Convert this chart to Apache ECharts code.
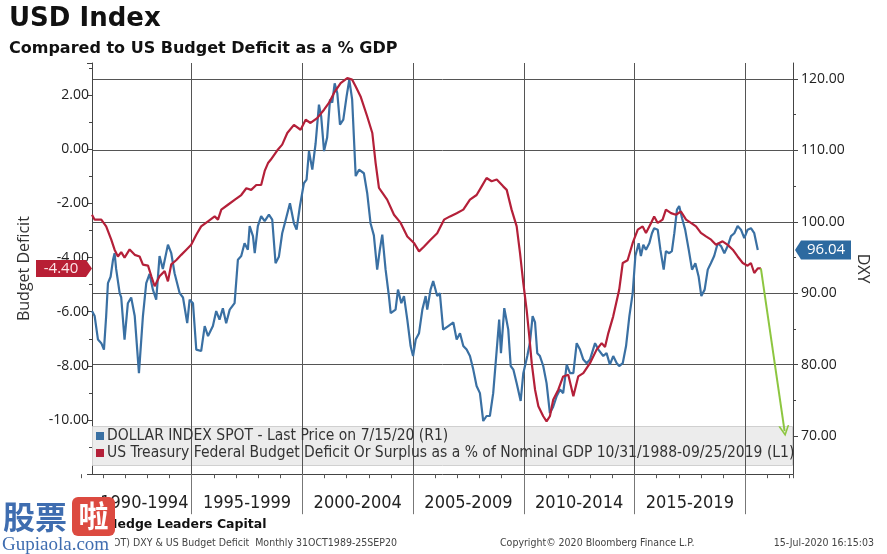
<!DOCTYPE html>
<html><head><meta charset="utf-8">
<script src="https://cdn.jsdelivr.net/npm/echarts@6/dist/echarts.min.js"></script>
<style>html,body{margin:0;padding:0;background:#fff}#c{width:887px;height:554px}</style>
</head><body><div id="c"></div>
<script>
// ---------- data ----------
const periodLabels = ['1990-1994','1995-1999','2000-2004','2005-2009','2010-2014','2015-2019'];

const dxyName = 'DOLLAR INDEX SPOT - Last Price on 7/15/20 (R1)';
const deficitName = 'US Treasury Federal Budget Deficit Or Surplus as a % of Nominal GDP 10/31/1988-09/25/2019 (L1)';

const dxyYears = [1990.50,1990.62,1990.77,1990.92,1991.04,1991.14,1991.22,1991.34,1991.45,1991.52,1991.59,1991.75,1991.82,1991.97,1992.12,1992.27,1992.43,1992.62,1992.80,1992.95,1993.10,1993.25,1993.40,1993.55,1993.70,1993.93,1994.08,1994.23,1994.46,1994.61,1994.80,1994.91,1995.06,1995.21,1995.43,1995.59,1995.74,1995.96,1996.11,1996.26,1996.41,1996.56,1996.72,1996.94,1997.09,1997.24,1997.39,1997.54,1997.62,1997.77,1997.85,1997.99,1998.14,1998.30,1998.49,1998.64,1998.79,1998.94,1999.09,1999.25,1999.44,1999.62,1999.74,1999.89,2000.07,2000.19,2000.30,2000.45,2000.60,2000.75,2000.85,2000.98,2001.12,2001.25,2001.35,2001.46,2001.58,2001.70,2001.85,2002.00,2002.12,2002.25,2002.41,2002.56,2002.78,2002.93,2003.08,2003.23,2003.38,2003.50,2003.61,2003.76,2003.91,2003.99,2004.21,2004.32,2004.47,2004.59,2004.74,2004.89,2005.00,2005.12,2005.27,2005.42,2005.57,2005.64,2005.79,2005.91,2006.09,2006.21,2006.36,2006.59,2006.82,2006.97,2007.12,2007.27,2007.42,2007.57,2007.72,2007.87,2008.02,2008.17,2008.32,2008.47,2008.62,2008.78,2008.89,2008.97,2009.12,2009.30,2009.41,2009.53,2009.68,2009.86,2009.98,2010.16,2010.28,2010.40,2010.51,2010.61,2010.73,2010.88,2011.03,2011.18,2011.33,2011.49,2011.64,2011.78,2011.94,2012.09,2012.24,2012.39,2012.54,2012.69,2012.84,2012.99,2013.22,2013.37,2013.59,2013.74,2013.89,2014.04,2014.20,2014.31,2014.47,2014.62,2014.77,2014.92,2015.04,2015.19,2015.29,2015.40,2015.52,2015.67,2015.79,2015.89,2016.05,2016.17,2016.32,2016.42,2016.57,2016.69,2016.80,2016.92,2017.02,2017.15,2017.29,2017.45,2017.60,2017.75,2017.90,2018.02,2018.17,2018.31,2018.45,2018.60,2018.76,2018.91,2019.06,2019.21,2019.36,2019.51,2019.66,2019.81,2019.96,2020.11,2020.26,2020.41,2020.57];
const dxyValues = [87.5,86.8,83.5,83.0,82.1,86.8,91.4,92.3,94.7,95.6,93.4,90.0,89.4,83.5,88.6,89.4,86.8,78.8,86.8,91.4,92.7,90.5,89.1,95.2,93.4,96.8,95.6,92.8,90.0,89.4,85.8,89.1,88.6,82.1,81.9,85.4,84.0,85.4,87.5,86.3,87.9,85.8,87.7,88.6,94.7,95.2,97.0,96.1,99.4,98.0,95.6,99.4,100.8,100.1,101.0,100.3,94.2,95.1,98.4,100.3,102.6,99.8,98.9,102.2,105.4,105.9,109.9,107.3,111.0,116.4,114.8,109.9,111.8,117.1,116.7,119.4,118.0,113.6,114.3,117.6,119.9,117.1,106.4,107.3,106.8,104.0,99.8,98.1,93.3,96.1,98.2,93.3,89.6,87.2,87.7,90.5,88.6,89.6,86.3,82.6,81.2,83.5,84.4,87.7,89.6,87.7,90.5,91.7,89.6,90.0,84.9,85.4,85.9,83.5,84.4,82.6,82.1,81.2,79.3,77.0,76.0,72.1,72.8,72.8,76.0,82.1,86.3,81.6,87.9,84.9,79.8,79.3,77.4,74.9,78.8,81.2,83.1,86.8,85.9,81.6,81.2,79.8,77.4,73.2,74.1,75.6,76.5,76.0,80.0,78.8,78.8,83.0,82.1,80.7,80.2,80.7,83.0,82.1,81.2,81.6,80.0,81.2,80.2,79.8,80.2,82.6,86.8,90.0,95.2,97.0,95.2,96.8,96.1,97.0,98.4,99.1,98.9,96.1,93.3,95.9,95.6,95.9,98.4,101.7,102.2,100.5,98.9,96.1,93.3,94.2,92.3,89.6,90.5,93.3,94.2,95.2,97.0,96.6,95.6,96.6,98.0,98.4,99.4,98.9,97.7,98.9,99.1,98.4,96.04];

const deficitYears = [1990.50,1990.62,1990.92,1991.14,1991.37,1991.52,1991.67,1991.82,1991.97,1992.20,1992.43,1992.65,1992.80,1993.03,1993.18,1993.33,1993.55,1993.78,1993.93,1994.08,1994.30,1994.53,1994.76,1994.98,1995.21,1995.43,1995.74,1996.04,1996.19,1996.34,1996.64,1996.94,1997.24,1997.47,1997.69,1997.92,1998.14,1998.30,1998.45,1998.57,1998.87,1999.09,1999.32,1999.62,1999.92,2000.15,2000.37,2000.67,2000.98,2001.20,2001.43,2001.73,2002.03,2002.25,2002.41,2002.63,2002.93,2003.16,2003.31,2003.46,2003.61,2003.83,2004.14,2004.44,2004.74,2005.04,2005.27,2005.49,2005.79,2006.09,2006.40,2006.67,2006.97,2007.27,2007.57,2007.87,2008.10,2008.32,2008.55,2008.78,2009.07,2009.23,2009.45,2009.68,2009.83,2009.98,2010.13,2010.25,2010.36,2010.51,2010.66,2010.88,2011.03,2011.18,2011.33,2011.56,2011.78,2012.01,2012.24,2012.46,2012.69,2012.99,2013.29,2013.52,2013.67,2013.82,2014.04,2014.17,2014.31,2014.47,2014.69,2014.92,2015.15,2015.37,2015.52,2015.75,2015.89,2016.05,2016.27,2016.42,2016.65,2016.87,2017.10,2017.33,2017.55,2017.78,2018.00,2018.23,2018.46,2018.68,2018.98,2019.21,2019.44,2019.66,2019.89,2020.11,2020.26,2020.41,2020.57,2020.71];
const deficitValues = [-2.42,-2.60,-2.60,-2.85,-3.34,-3.71,-3.96,-3.80,-4.00,-3.70,-3.90,-3.96,-4.26,-4.30,-4.69,-5.06,-4.69,-4.50,-4.88,-4.25,-4.10,-3.90,-3.71,-3.53,-3.16,-2.85,-2.66,-2.48,-2.60,-2.23,-2.05,-1.87,-1.69,-1.44,-1.50,-1.32,-1.32,-0.80,-0.51,-0.39,-0.04,0.17,0.60,0.90,0.72,1.09,0.97,1.15,1.46,1.71,2.08,2.44,2.63,2.57,2.32,1.95,1.21,0.60,-0.51,-1.43,-1.60,-1.86,-2.42,-2.72,-3.22,-3.46,-3.77,-3.60,-3.34,-3.10,-2.60,-2.48,-2.36,-2.23,-1.86,-1.69,-1.37,-1.06,-1.18,-1.12,-1.37,-1.50,-2.23,-2.85,-3.83,-4.94,-5.93,-6.91,-7.90,-8.88,-9.49,-9.86,-10.05,-9.86,-9.25,-8.88,-8.39,-8.33,-9.12,-8.39,-8.27,-7.90,-7.40,-7.16,-7.30,-6.79,-6.17,-5.70,-5.19,-4.20,-4.10,-3.46,-2.97,-2.85,-3.09,-2.72,-2.48,-2.72,-2.60,-2.23,-2.36,-2.42,-2.30,-2.60,-2.72,-2.85,-3.09,-3.22,-3.34,-3.53,-3.40,-3.53,-3.71,-3.96,-4.20,-4.30,-4.20,-4.57,-4.40,-4.40];

const lastDeficit = -4.40;
const lastDxy = 96.04;
const arrowFrom = [2020.71, -4.40];
const arrowTo = [2021.78, -10.41];

const leftTickInterval = 2;
const rightTickInterval = 10;

// ---------- chart ----------
const narrow = "'Liberation Sans Narrow','DejaVu Sans Condensed',sans-serif";
const axisFont = "'Open Sans','DejaVu Sans',sans-serif";
const BLUE = '#3a70a3', RED = '#b42039', GRID = '#555';

const chart = echarts.init(document.getElementById('c'), null, {renderer: 'canvas'});

const option = {
  animation: false,
  backgroundColor: '#fff',
  title: {
    text: 'USD Index',
    subtext: 'Compared to US Budget Deficit as a % GDP',
    left: 9, top: 6, itemGap: 9, padding: 0,
    textStyle: {fontFamily: 'DejaVu Sans', fontWeight: 'bold', fontSize: 26, color: '#111'},
    subtextStyle: {fontFamily: 'DejaVu Sans', fontWeight: 'bold', fontSize: 16, color: '#111'}
  },
  legend: {
    left: 96, top: 428, orient: 'vertical', itemGap: 1, itemWidth: 8, itemHeight: 8, icon: 'rect',
    padding: 0, selectedMode: false, z: 5,
    textStyle: {fontFamily: narrow, fontSize: 15.5, color: '#333', padding: [0, 0, 0, -2]},
    data: [dxyName, deficitName]
  },
  grid: [
    {left: 92, right: 94, top: 63, bottom: 79.8},
    {left: 92, right: 94, top: 79, bottom: 118},
    {left: 81, right: 141.8, top: 63, bottom: 79.8},
    {left: 81, right: 94, top: 63, bottom: 79.8}
  ],
  xAxis: [
    {gridIndex: 0, type: 'value', min: 1990.5, max: 2022.16,
      axisLine: {show: true, onZero: false, lineStyle: {color: '#444'}}, axisTick: {show: false}, axisLabel: {show: false}, splitLine: {show: false}},
    {gridIndex: 1, type: 'value', min: 1990.5, max: 2022.16, show: false},
    {gridIndex: 2, type: 'category', data: periodLabels, boundaryGap: true, z: 2,
      axisLine: {show: false, onZero: false},
      axisTick: {show: true, length: 40, interval: (i) => i > 0, lineStyle: {color: '#777'}},
      splitLine: {show: true, interval: (i) => i > 0, lineStyle: {color: GRID, width: 1}},
      axisLabel: {interval: 0, margin: 20, fontFamily: narrow, fontSize: 18, color: '#222',
        formatter: (v, i) => i === 0 ? '{a|' + v + '}' : v,
        rich: {a: {fontFamily: narrow, fontSize: 18, color: '#222', padding: [0, 0, 0, 16]}}}},
    {gridIndex: 3, type: 'value', min: 1990, max: 2022.16, interval: 1,
      axisLine: {show: false, onZero: false}, axisTick: {show: true, length: 4, lineStyle: {color: '#555'}},
      axisLabel: {show: false}, splitLine: {show: false}}
  ],
  yAxis: [
    {gridIndex: 0, type: 'value', position: 'left', min: -12, max: 3.185, interval: leftTickInterval,
      name: 'Budget Deficit', nameLocation: 'middle', nameRotate: 90, nameGap: 60,
      nameTextStyle: {fontFamily: axisFont, fontSize: 16, color: '#333'},
      axisLine: {show: true, onZero: false, lineStyle: {color: '#444'}},
      axisTick: {show: true, length: 5, lineStyle: {color: '#444'}},
      minorTick: {show: true, splitNumber: 2, length: 3, lineStyle: {color: '#444'}},
      axisLabel: {margin: 3, fontFamily: axisFont, fontSize: 14, color: '#222',
        formatter: (v) => (v <= -12 || Math.abs(v / 2 - Math.round(v / 2)) > 0.01) ? '' : v.toFixed(2)},
      splitLine: {show: false}},
    {gridIndex: 0, type: 'value', position: 'right', min: 0, max: 1,
      name: 'DXY', nameLocation: 'middle', nameRotate: -90, nameGap: 62,
      nameTextStyle: {fontFamily: axisFont, fontSize: 16, color: '#333'},
      axisLine: {show: true, onZero: false, lineStyle: {color: '#444'}}, axisTick: {show: false}, axisLabel: {show: false}, splitLine: {show: false}},
    {gridIndex: 1, type: 'value', position: 'right', min: 70, max: 120, interval: rightTickInterval,
      axisLine: {show: false, onZero: false},
      axisTick: {show: true, length: 5, lineStyle: {color: '#444'}},
      minorTick: {show: true, splitNumber: 2, length: 3, lineStyle: {color: '#444'}},
      axisLabel: {margin: 8, fontFamily: axisFont, fontSize: 14, color: '#222', formatter: (v) => v.toFixed(2)},
      splitLine: {show: true, lineStyle: {color: GRID, width: 1}}},
    {gridIndex: 2, type: 'value', show: false},
    {gridIndex: 3, type: 'value', show: false}
  ],
  series: [
    {name: dxyName, type: 'line', xAxisIndex: 1, yAxisIndex: 2, z: 3, clip: false,
      data: dxyYears.map((y, i) => [y, dxyValues[i]]),
      showSymbol: false, symbol: 'none', lineStyle: {color: BLUE, width: 2.2}, itemStyle: {color: BLUE}},
    {name: deficitName, type: 'line', xAxisIndex: 0, yAxisIndex: 0, z: 4, clip: false,
      data: deficitYears.map((y, i) => [y, deficitValues[i]]),
      showSymbol: false, symbol: 'none', lineStyle: {color: RED, width: 2.2}, itemStyle: {color: RED},
      markLine: {silent: true, symbol: ['none', 'path://M5,0 L10,10 L8.4,10 L5,3.2 L1.6,10 L0,10 Z'], symbolSize: [11, 11],
        lineStyle: {color: '#8dc640', width: 2, type: 'solid'}, label: {show: false}, emphasis: {disabled: true},
        data: [[{coord: arrowFrom}, {coord: arrowTo}]]}}
  ]
};
chart.setOption(option);

const yRed = chart.convertToPixel({yAxisIndex: 0}, lastDeficit);
const yBlue = chart.convertToPixel({yAxisIndex: 2}, lastDxy);
const foot = "'Liberation Sans Narrow','DejaVu Sans Condensed',sans-serif";

chart.setOption({
  graphic: {elements: [
    // legend backdrop
    {type: 'rect', z: 1, shape: {x: 92.5, y: 426.5, width: 700, height: 39}, style: {fill: '#ececec', stroke: '#d0d0d0', lineWidth: 1}},
    // left value tag
    {type: 'polygon', z: 10, shape: {points: [[36, yRed - 8.5], [86, yRed - 8.5], [92, yRed], [86, yRed + 8.5], [36, yRed + 8.5]]}, style: {fill: '#b81f35'}},
    {type: 'text', z: 11, style: {text: lastDeficit.toFixed(2), x: 61, y: yRed, textAlign: 'center', textVerticalAlign: 'middle', fill: '#fde6e9', font: "15px 'Open Sans', sans-serif"}},
    // right value tag
    {type: 'polygon', z: 10, shape: {points: [[795, yBlue], [801, yBlue - 9.5], [851, yBlue - 9.5], [851, yBlue + 9.5], [801, yBlue + 9.5]]}, style: {fill: '#2d6aa0'}},
    {type: 'text', z: 11, style: {text: lastDxy.toFixed(2), x: 826, y: yBlue, textAlign: 'center', textVerticalAlign: 'middle', fill: '#ffffff', font: "15px 'Open Sans', sans-serif"}},
    // footer
    {type: 'text', z: 5, style: {text: 'Hedge Leaders Capital', x: 107, y: 525, textVerticalAlign: 'middle', fill: '#111', font: "bold 12.5px 'DejaVu Sans', sans-serif"}},
    {type: 'text', z: 5, style: {text: 'DXY (DOLLAR INDEX SPOT) DXY & US Budget Deficit  Monthly 31OCT1989-25SEP20', x: 397, y: 543, textAlign: 'right', textVerticalAlign: 'middle', fill: '#444', font: "10.5px " + foot}},
    {type: 'text', z: 5, style: {text: 'Copyright\u00a9 2020 Bloomberg Finance L.P.', x: 500, y: 543, textVerticalAlign: 'middle', fill: '#444', font: "10.5px " + foot}},
    {type: 'text', z: 5, style: {text: '15-Jul-2020 16:15:03', x: 874, y: 543, textAlign: 'right', textVerticalAlign: 'middle', fill: '#444', font: "10.5px " + foot}},
    // watermark
    {type: 'rect', z: 20, shape: {x: 0, y: 535, width: 115, height: 19}, style: {fill: '#fff'}},
    {type: 'text', z: 21, style: {text: '股票', x: 3, y: 517, textVerticalAlign: 'middle', fill: '#3f6db0', font: "bold 32px 'Noto Sans CJK SC', sans-serif"}},
    {type: 'rect', z: 21, shape: {x: 72, y: 497, width: 43, height: 39, r: 6}, style: {fill: '#dc4a40'}},
    {type: 'text', z: 22, style: {text: '啦', x: 93.5, y: 516, textAlign: 'center', textVerticalAlign: 'middle', fill: '#fff', font: "bold 30px 'Noto Sans CJK SC', sans-serif"}},
    {type: 'text', z: 21, style: {text: 'Gupiaola.com', x: 2, y: 545, textVerticalAlign: 'middle', fill: '#3f6db0', font: "19px 'Liberation Serif','DejaVu Serif',serif"}}
  ]}
});
</script></body></html>
